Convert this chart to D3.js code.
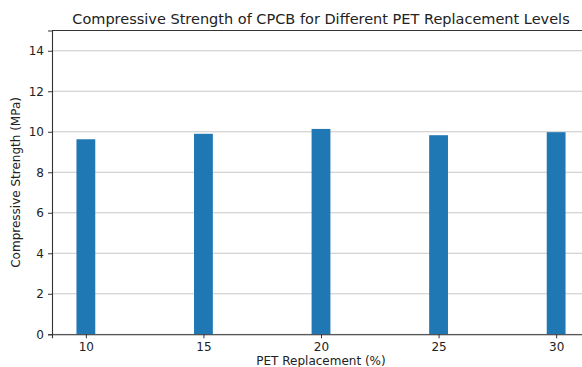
<!DOCTYPE html>
<html lang="en">
<head>
    <meta charset="UTF-8">
    <title>Compressive Strength of CPCB</title>
    <script src="https://d3js.org/d3.v7.min.js"></script>
    <style>
        body { margin: 0; background: #fff; }
        text { font-family: "DejaVu Sans", sans-serif; fill: #222; }
        .grid line { stroke: #c8c8c8; stroke-width: 1; }
    </style>
</head>
<body>
    <script>
        // data
        const petLevels = [10, 15, 20, 25, 30];
        const strength = [9.63, 9.9, 10.14, 9.83, 9.98];
        const yTicks = [0, 2, 4, 6, 8, 10, 12, 14];

        const width = 582, height = 367;
        const mLeft = 52, mRight = 590, mTop = 30.5, mBottom = 334.3;

        // matplotlib style: bar width 0.8, 5% margins
        const x = d3.scaleLinear().domain([8.56, 31.44]).range([mLeft, mRight]);
        const y = d3.scaleLinear().domain([0, 15]).range([mBottom, mTop]);

        const svg = d3.select("body").append("svg")
            .attr("width", width)
            .attr("height", height);

        // horizontal grid lines
        svg.append("g").attr("class", "grid")
            .selectAll("line")
            .data(yTicks)
            .enter().append("line")
            .attr("x1", mLeft).attr("x2", mRight)
            .attr("y1", d => y(d)).attr("y2", d => y(d));

        // bars
        svg.selectAll("rect.bar")
            .data(petLevels)
            .enter().append("rect")
            .attr("class", "bar")
            .attr("x", d => x(d - 0.4))
            .attr("width", d => x(d + 0.4) - x(d - 0.4))
            .attr("y", (d, i) => y(strength[i]))
            .attr("height", (d, i) => y(0) - y(strength[i]))
            .attr("fill", "#1f77b4");

        // axes
        const xAxis = svg.append("g")
            .attr("transform", "translate(0," + mBottom + ")")
            .call(d3.axisBottom(x).tickValues(petLevels).tickSize(4).tickPadding(4));
        const yAxis = svg.append("g")
            .attr("transform", "translate(" + mLeft + ",0)")
            .call(d3.axisLeft(y).tickValues(yTicks).tickSize(4).tickPadding(4));

        [xAxis, yAxis].forEach(a => {
            a.select(".domain").attr("stroke", "#333").attr("stroke-width", 1.1);
            a.selectAll(".tick line").attr("stroke", "#333");
            a.selectAll(".tick text").attr("font-size", 12).attr("fill", "#222");
        });

        // top spine
        svg.append("line")
            .attr("x1", mLeft).attr("x2", mRight)
            .attr("y1", mTop).attr("y2", mTop)
            .attr("stroke", "#333").attr("stroke-width", 1.1);

        // title
        svg.append("text")
            .attr("x", (mLeft + mRight) / 2)
            .attr("y", 24)
            .attr("text-anchor", "middle")
            .attr("font-size", 14.5)
            .text("Compressive Strength of CPCB for Different PET Replacement Levels");

        // axis labels
        svg.append("text")
            .attr("x", (mLeft + mRight) / 2)
            .attr("y", 365)
            .attr("text-anchor", "middle")
            .attr("font-size", 12)
            .text("PET Replacement (%)");

        svg.append("text")
            .attr("transform", "translate(20," + (mTop + mBottom) / 2 + ") rotate(-90)")
            .attr("text-anchor", "middle")
            .attr("font-size", 12)
            .text("Compressive Strength (MPa)");
    </script>
</body>
</html>
